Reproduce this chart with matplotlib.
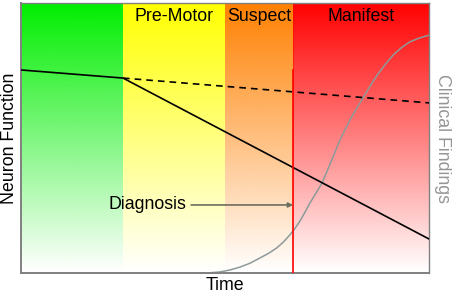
import numpy as np
import matplotlib.pyplot as plt
from matplotlib.colors import to_rgb

plt.rcParams['font.family'] = ['Liberation Sans', 'DejaVu Sans']

# phases (x in % of time axis)
phase_names = ['', 'Pre-Motor', 'Suspect', 'Manifest']
phase_edges = [0, 25, 50, 66.7, 100]
phase_colors = ['#00ee00', '#ffff00', '#ff8000', '#ff0000']

# neuron function (solid = disease, dashed = normal ageing)
nf_x = [0, 25, 100]
nf_y = [75.2, 72.2, 12.6]
aging_x = [25, 100]
aging_y = [72.2, 63.0]

# clinical findings curve
cf_x = [0, 45.6, 48.8, 51.2, 53.7, 56.1, 58.6, 60.7, 62.7, 64.4, 65.9, 67.2, 68.4,
        69.6, 70.8, 72.3, 73.8, 76.0, 78.2, 80.6, 83.8, 85.6, 87.3, 89.3, 91.2,
        93.2, 95.3, 97.6, 100]
cf_y = [0, 0, 0.4, 1.1, 2.2, 3.6, 5.6, 7.3, 9.3, 11.6, 14.1, 16.6, 19.3,
        22.5, 25.9, 29.6, 33.3, 41.3, 49.3, 56.7, 64.8, 69.3, 73.3, 77.3, 80.7,
        83.4, 85.6, 87.0, 88.1]

diagnosis_x = 66.7
diagnosis_top = 75.2

fig = plt.figure(figsize=(4.54, 2.95), dpi=100)
ax = fig.add_axes([21 / 454, 22 / 295, 408 / 454, 270 / 295])
ax.set_xlim(0, 100)
ax.set_ylim(0, 100)

# vertical gradients, full colour at top fading to white
ramp = np.linspace(0, 1, 256)[:, None]
for i, col in enumerate(phase_colors):
    rgba = np.zeros((256, 1, 4))
    rgba[..., :3] = to_rgb(col)
    rgba[..., 3] = ramp
    ax.imshow(rgba, extent=[phase_edges[i], phase_edges[i + 1], 0, 100],
              origin='lower', aspect='auto', interpolation='bilinear', zorder=0)
    if phase_names[i]:
        ax.text((phase_edges[i] + phase_edges[i + 1]) / 2, 95, phase_names[i],
                ha='center', va='center', fontsize=12.8, zorder=3)

ax.plot(nf_x, nf_y, color='black', lw=1.2, zorder=3)
ax.plot(aging_x, aging_y, color='black', lw=1.2, ls=(0, (4, 3)), zorder=3)
ax.plot(cf_x, cf_y, color='#8c9a9a', lw=1.1, zorder=2)
ax.plot([diagnosis_x, diagnosis_x], [0, diagnosis_top], color='#ff0000', lw=1.2, zorder=3)

ax.annotate('', xy=(diagnosis_x, 25.2), xytext=(41.7, 25.2),
            arrowprops=dict(arrowstyle='-|>', color='#6e6e60', lw=1.2,
                            mutation_scale=7, shrinkA=0, shrinkB=0), zorder=4)
ax.text(31.0, 25.2, 'Diagnosis', ha='center', va='center', fontsize=12.8, zorder=4)

for s in ax.spines.values():
    s.set_color('#808080')
    s.set_linewidth(1.0)
ax.spines['left'].set_linewidth(1.4)
ax.spines['bottom'].set_linewidth(1.4)
ax.set_xticks([])
ax.set_yticks([])

fig.text(10 / 454, 1 - 138 / 295, 'Neuron Function', rotation=90,
         ha='center', va='center', fontsize=12.8)
fig.text(443 / 454, 1 - 138 / 295, 'Clinical Findings', rotation=270,
         ha='center', va='center', fontsize=12.8, color='#959595')
fig.text(225 / 454, 1 - 285 / 295, 'Time', ha='center', va='center', fontsize=12.8)

fig.savefig('out.png', dpi=100)
